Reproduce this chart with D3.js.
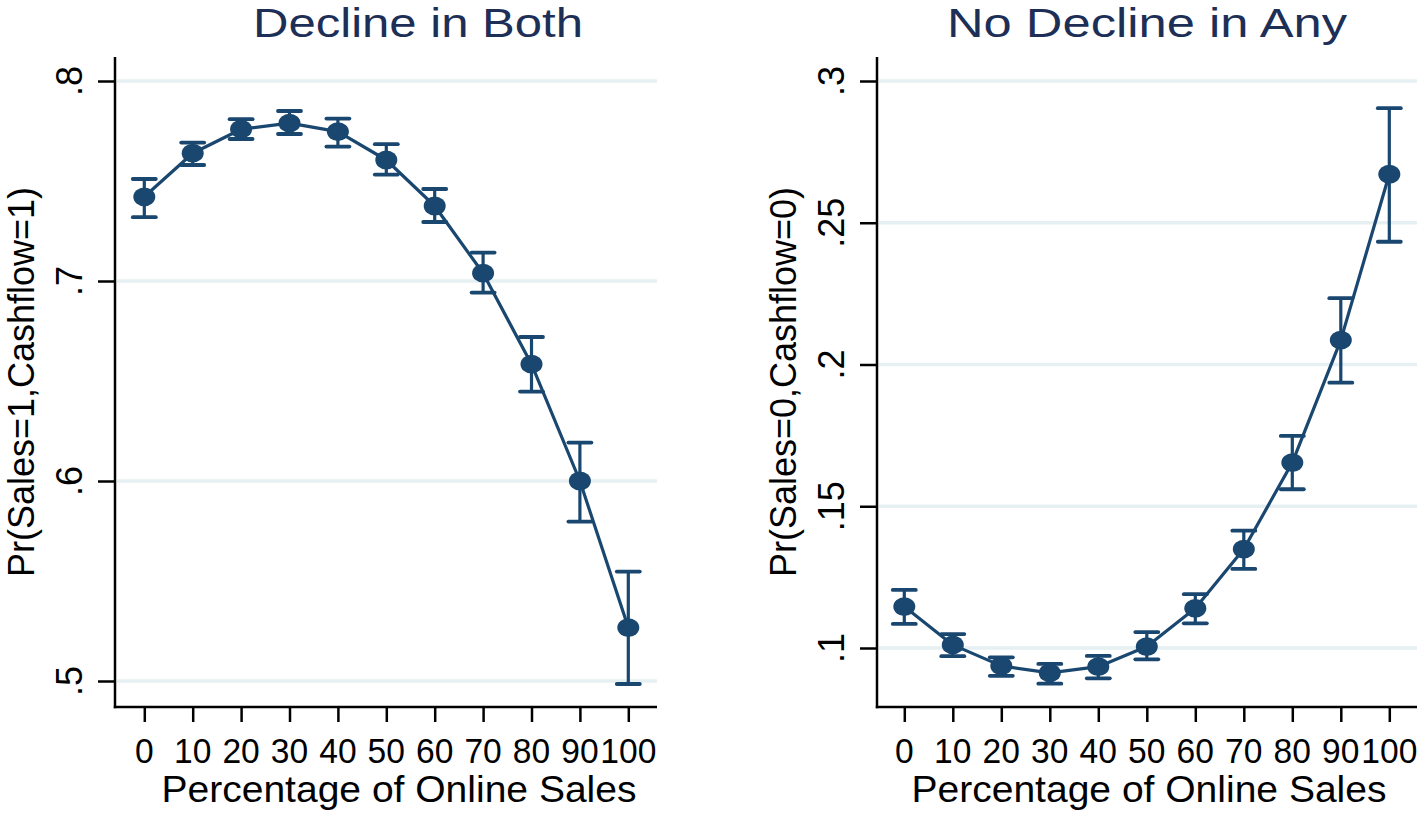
<!DOCTYPE html>
<html>
<head>
<meta charset="utf-8">
<script src="https://cdn.jsdelivr.net/npm/d3@7"></script>
<style>
  html, body { margin: 0; padding: 0; background: #ffffff; }
  svg { display: block; }
  text { font-family: "Liberation Sans", Arial, Helvetica, sans-serif; }
</style>
</head>
<body>
<svg id="chart" width="1419" height="816"></svg>
<script>
// ---------------- DATA ----------------
const xValues = [0, 10, 20, 30, 40, 50, 60, 70, 80, 90, 100];
const xTickLabels = ["0", "10", "20", "30", "40", "50", "60", "70", "80", "90", "100"];

const titles = ["Decline in Both", "No Decline in Any"];
const yTitles = ["Pr(Sales=1,Cashflow=1)", "Pr(Sales=0,Cashflow=0)"];
const xTitle = "Percentage of Online Sales";

// Left panel: Pr(Sales=1,Cashflow=1)
const bothEst = [0.7421, 0.7639, 0.7759, 0.7789, 0.7747, 0.7605, 0.7375, 0.7039, 0.6584, 0.6000, 0.5267];
const bothHi  = [0.7510, 0.7692, 0.7809, 0.7850, 0.7812, 0.7684, 0.7460, 0.7142, 0.6720, 0.6192, 0.5547];
const bothLo  = [0.7319, 0.7580, 0.7710, 0.7735, 0.7672, 0.7532, 0.7295, 0.6942, 0.6447, 0.5797, 0.4985];
const bothYTicks = [0.5, 0.6, 0.7, 0.8];
const bothYLabels = [".5", ".6", ".7", ".8"];

// Right panel: Pr(Sales=0,Cashflow=0)
const noneEst = [0.1146, 0.1011, 0.0937, 0.0912, 0.0934, 0.1005, 0.1140, 0.1349, 0.1654, 0.2086, 0.2671];
const noneHi  = [0.1205, 0.1049, 0.0967, 0.0944, 0.0972, 0.1056, 0.1190, 0.1414, 0.1748, 0.2234, 0.2904];
const noneLo  = [0.1085, 0.0971, 0.0902, 0.0874, 0.0893, 0.0960, 0.1087, 0.1279, 0.1560, 0.1936, 0.2433];
const noneYTicks = [0.1, 0.15, 0.2, 0.25, 0.3];
const noneYLabels = [".1", ".15", ".2", ".25", ".3"];

// ---------------- STYLE ----------------
const navy = "#1a476f";
const titleColor = "#1e2f57";
const gridColor = "#e6eff2";

const svg = d3.select("#chart");

function drawPanel(cfg) {
  const g = svg.append("g");
  const x = d3.scaleLinear().domain([0, 100]).range([cfg.x0, cfg.x100]);
  const y = d3.scaleLinear().domain([cfg.yTicks[0], cfg.yTicks[cfg.yTicks.length - 1]])
                            .range([cfg.yBot, cfg.yTopTick]);

  // gridlines
  g.selectAll("line.grid").data(cfg.yTicks).join("line")
    .attr("x1", cfg.axisX + 2).attr("x2", cfg.right)
    .attr("y1", d => y(d)).attr("y2", d => y(d))
    .attr("stroke", gridColor).attr("stroke-width", 3.5);

  // y axis via d3.axisLeft
  const yAxis = d3.axisLeft(y).tickValues(cfg.yTicks).tickFormat("").tickSizeOuter(0).tickSizeInner(17);
  const ya = g.append("g").attr("transform", `translate(${cfg.axisX},0)`).call(yAxis);
  ya.select(".domain").remove();
  ya.selectAll(".tick line").attr("stroke", "#000").attr("stroke-width", 2.5);
  g.append("line").attr("x1", cfg.axisX).attr("x2", cfg.axisX)
    .attr("y1", cfg.axisTop).attr("y2", cfg.axisBottom + 1.2)
    .attr("stroke", "#000").attr("stroke-width", 2.5);

  // y tick labels (rotated)
  g.selectAll("text.ytl").data(cfg.yTicks).join("text")
    .attr("transform", d => `translate(${cfg.axisX - 33},${y(d)}) rotate(-90)`)
    .attr("text-anchor", "middle")
    .attr("font-size", 36)
    .attr("fill", "#000")
    .text((d, i) => cfg.yLabels[i]);

  // x axis via d3.axisBottom
  const xAxis = d3.axisBottom(x).tickValues(xValues).tickFormat("").tickSizeOuter(0).tickSizeInner(15);
  const xa = g.append("g").attr("transform", `translate(0,${cfg.axisBottom})`).call(xAxis);
  xa.select(".domain").remove();
  xa.selectAll(".tick line").attr("stroke", "#000").attr("stroke-width", 2.5);
  g.append("line").attr("x1", cfg.axisX - 1.2).attr("x2", cfg.right)
    .attr("y1", cfg.axisBottom).attr("y2", cfg.axisBottom)
    .attr("stroke", "#000").attr("stroke-width", 2.5);

  // x tick labels
  g.selectAll("text.xtl").data(xValues).join("text")
    .attr("transform", d => `translate(${x(d)},763) scale(0.96,1)`)
    .attr("text-anchor", "middle")
    .attr("font-size", 35)
    .attr("fill", "#000")
    .text((d, i) => xTickLabels[i]);

  // x axis title
  g.append("text")
    .attr("x", cfg.xTitleX).attr("y", 802)
    .attr("text-anchor", "middle")
    .attr("font-size", 36)
    .attr("textLength", 475).attr("lengthAdjust", "spacingAndGlyphs")
    .attr("fill", "#000")
    .text(xTitle);

  // y axis title
  g.append("text")
    .attr("transform", `translate(${cfg.axisX - 81},382) rotate(-90)`)
    .attr("text-anchor", "middle")
    .attr("font-size", 36)
    .attr("fill", "#000")
    .text(cfg.yTitle);

  // panel title
  g.append("text")
    .attr("x", cfg.titleX).attr("y", 37)
    .attr("text-anchor", "middle")
    .attr("font-size", 40)
    .attr("textLength", cfg.titleLen).attr("lengthAdjust", "spacingAndGlyphs")
    .attr("fill", titleColor)
    .text(cfg.title);

  const pts = xValues.map((v, i) => ({ x: v, est: cfg.est[i], lo: cfg.lo[i], hi: cfg.hi[i] }));

  // connecting line
  g.append("path").datum(pts)
    .attr("d", d3.line().x(d => x(d.x)).y(d => y(d.est)))
    .attr("fill", "none").attr("stroke", navy).attr("stroke-width", 3.2)
    .attr("stroke-linejoin", "round");

  // error bars
  const eb = g.selectAll("g.eb").data(pts).join("g");
  eb.append("line")
    .attr("x1", d => x(d.x)).attr("x2", d => x(d.x))
    .attr("y1", d => y(d.hi)).attr("y2", d => y(d.lo))
    .attr("stroke", navy).attr("stroke-width", 3.2);
  eb.append("line")
    .attr("x1", d => x(d.x) - 11.5).attr("x2", d => x(d.x) + 11.5)
    .attr("y1", d => y(d.hi)).attr("y2", d => y(d.hi))
    .attr("stroke", navy).attr("stroke-width", 3.8).attr("stroke-linecap", "round");
  eb.append("line")
    .attr("x1", d => x(d.x) - 11.5).attr("x2", d => x(d.x) + 11.5)
    .attr("y1", d => y(d.lo)).attr("y2", d => y(d.lo))
    .attr("stroke", navy).attr("stroke-width", 3.8).attr("stroke-linecap", "round");

  // markers
  g.selectAll("ellipse.pt").data(pts).join("ellipse")
    .attr("cx", d => x(d.x)).attr("cy", d => y(d.est))
    .attr("rx", 11).attr("ry", 9.4)
    .attr("fill", navy);
}

drawPanel({
  axisX: 115, right: 657, x0: 144.3, x100: 628.3,
  axisTop: 57, axisBottom: 707,
  yTicks: bothYTicks, yLabels: bothYLabels, yBot: 681, yTopTick: 81,
  est: bothEst, lo: bothLo, hi: bothHi,
  title: titles[0], titleX: 418, titleLen: 330,
  yTitle: yTitles[0], xTitleX: 399
});

drawPanel({
  axisX: 877, right: 1417, x0: 904.3, x100: 1389.3,
  axisTop: 57, axisBottom: 707,
  yTicks: noneYTicks, yLabels: noneYLabels, yBot: 648, yTopTick: 81,
  est: noneEst, lo: noneLo, hi: noneHi,
  title: titles[1], titleX: 1147, titleLen: 400,
  yTitle: yTitles[1], xTitleX: 1149
});
</script>
</body>
</html>
